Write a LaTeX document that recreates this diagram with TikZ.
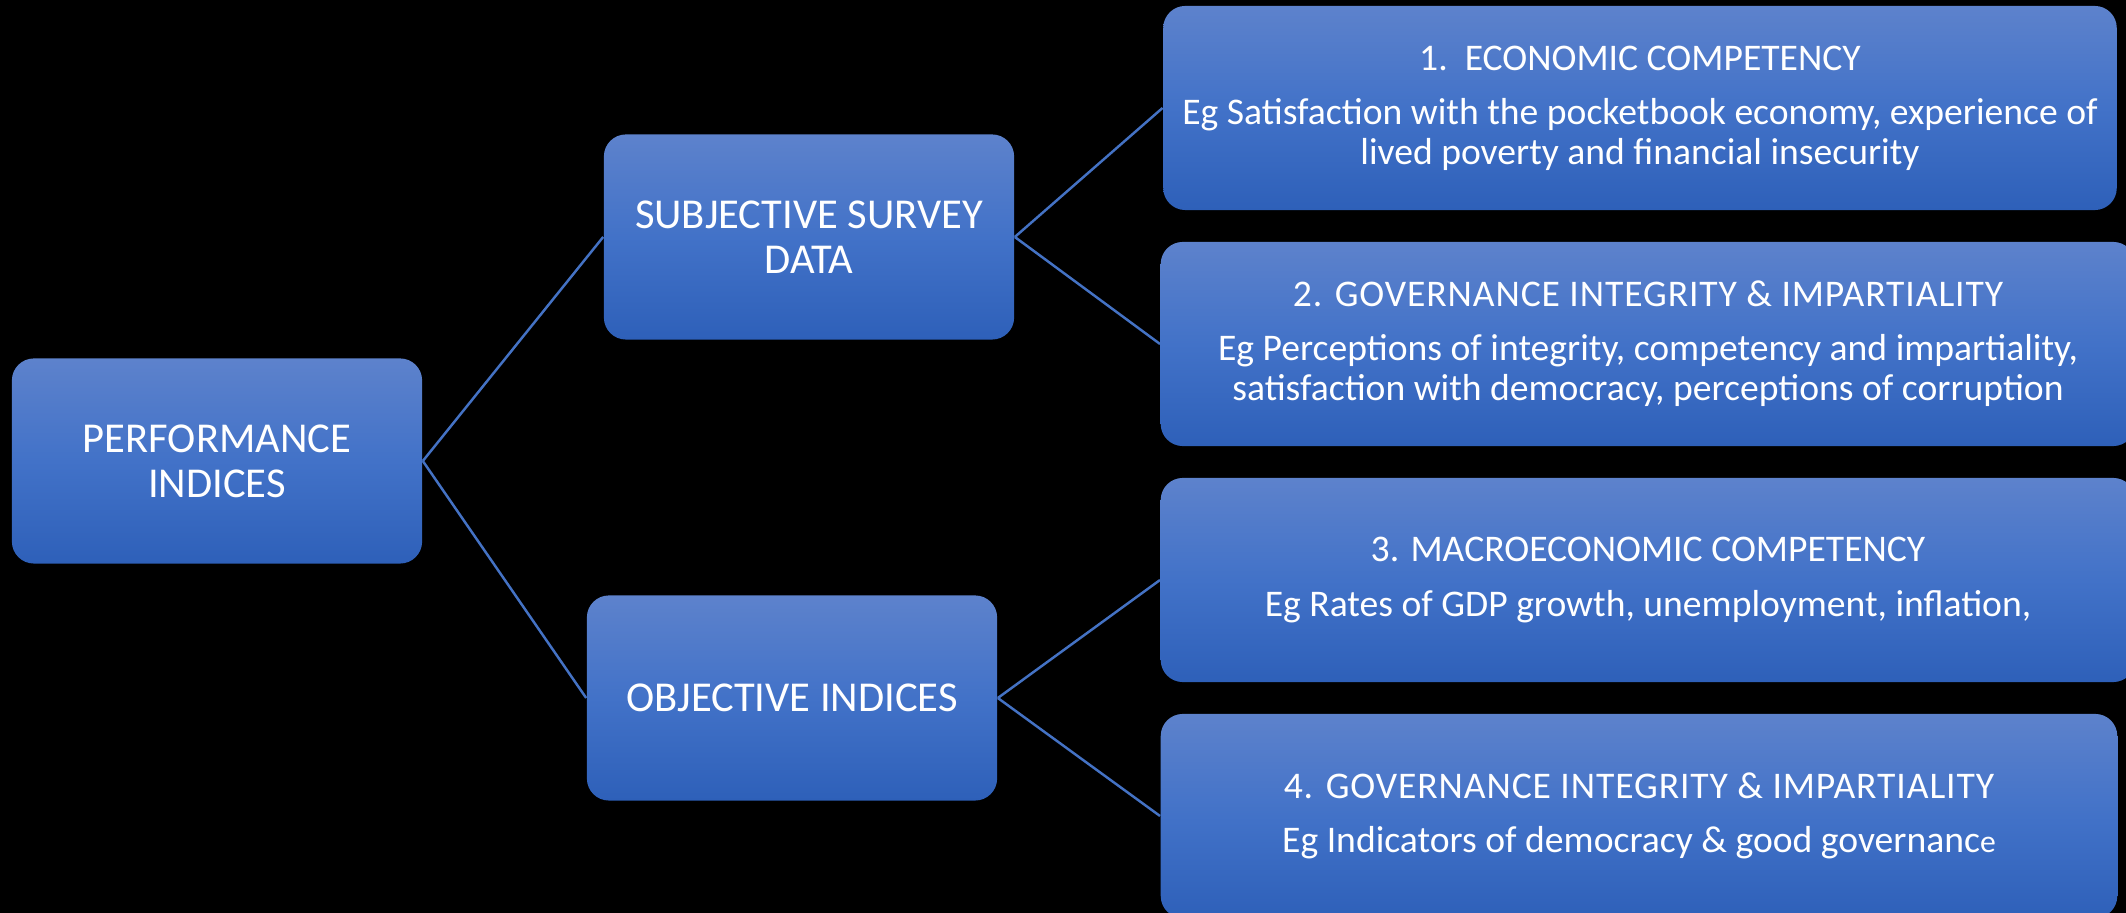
\documentclass[tikz,border=0pt]{standalone}
\usepackage{fontspec}
\setmainfont{Carlito}
\usepackage{xcolor}
\usepackage{tikz}
\usetikzlibrary{positioning}

\definecolor{boxtop}{RGB}{93,130,204}
\definecolor{boxmid}{RGB}{66,114,200}
\definecolor{boxbot}{RGB}{46,96,185}
\definecolor{linkblue}{RGB}{68,114,196}

% spaced caps for the wider headings
\newcommand{\widehead}[1]{{\addfontfeature{LetterSpace=2.4}#1}}

\begin{document}
\begin{tikzpicture}[%
		x=0.01cm, y=-0.01cm,
		link/.style={draw=linkblue, line width=0.7pt}]
		\tikzstyle{every node}=[text=white, align=center, rounded corners=0.22cm,
			top color=boxtop, bottom color=boxbot, middle color=boxmid]
		\tikzstyle{main}=[minimum width=4.1cm, minimum height=2.05cm,
			font=\fontsize{12.1}{12.8}\selectfont]
		\tikzstyle{item}=[minimum height=2.04cm,
			font=\fontsize{10.7}{11.4}\selectfont]
		\useasboundingbox (0,0) rectangle (2126,913);
		\fill[black] (0,0) rectangle (2126,913);
		% left column
		\node[main] (perf) at (217,461) {PERFORMANCE\\INDICES};
		% middle column
		\node[main] (subj) at (809,237) {SUBJECTIVE SURVEY\\DATA};
		\node[main] (obj) at (792,698) {OBJECTIVE INDICES};
		% right column
		\node[item, minimum width=9.53cm] (econ) at (1640,108)
			{1.\ \ ECONOMIC COMPETENCY\\[4pt]
			Eg Satisfaction with the pocketbook economy, experience of\\
			lived poverty and financial insecurity};
		\node[item, minimum width=9.74cm] (gov) at (1648,344)
			{\widehead{2. GOVERNANCE INTEGRITY \& IMPARTIALITY}\\[4pt]
			Eg Perceptions of integrity, competency and impartiality,\\
			satisfaction with democracy, perceptions of corruption};
		\node[item, minimum width=9.74cm] (macro) at (1648,580)
			{3. MACROECONOMIC COMPETENCY\\[4.5pt]
			Eg Rates of GDP growth, unemployment, inflation,};
		\node[item, minimum width=9.56cm] (govind) at (1639,816)
			{\widehead{4. GOVERNANCE INTEGRITY \& IMPARTIALITY}\\[4pt]
			Eg Indicators of democracy \& good governanc{\fontsize{9}{11.4}\selectfont e}};
		% connectors
		\draw[link] (perf.east) -- (subj.west);
		\draw[link] (perf.east) -- (obj.west);
		\draw[link] (subj.east) -- (econ.west);
		\draw[link] (subj.east) -- (gov.west);
		\draw[link] (obj.east) -- (macro.west);
		\draw[link] (obj.east) -- (govind.west);
	\end{tikzpicture}
\end{document}
